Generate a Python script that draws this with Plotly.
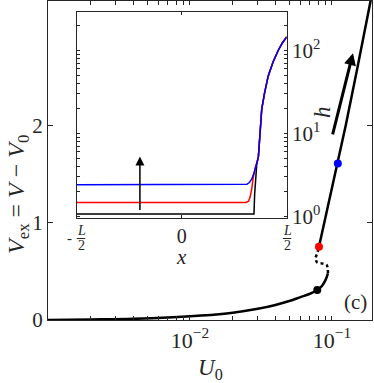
import numpy as np
import plotly.graph_objects as go

# main curve: excess voltage vs U0 (lower stable, unstable, upper stable branches)
u_low = [0.001, 0.002, 0.004, 0.007, 0.012, 0.02, 0.03, 0.04, 0.05, 0.06, 0.07, 0.0788, 0.085, 0.09, 0.0937]
v_low = [0.0, 0.005, 0.012, 0.025, 0.045, 0.075, 0.115, 0.155, 0.195, 0.235, 0.27, 0.309, 0.35, 0.41, 0.48]
u_mid = [0.0937, 0.0918, 0.086, 0.0788, 0.0767, 0.0775, 0.0788, 0.081]
v_mid = [0.48, 0.566, 0.58, 0.59, 0.635, 0.66, 0.686, 0.754]
u_up = [0.081, 0.09, 0.1, 0.11, 0.125, 0.15, 0.19]
v_up = [0.754, 1.05, 1.34, 1.61, 2.0, 2.57, 3.33]

# marked states
dot_u = [0.0788, 0.081, 0.110]
dot_v = [0.309, 0.754, 1.61]
dot_col = ["black", "red", "blue"]

# inset profiles h(x)
x_blk = [-0.5, 0.344, 0.347, 0.352, 0.357, 0.365, 0.373, 0.381, 0.395, 0.412, 0.435, 0.46, 0.48, 0.5]
h_blk = [1.07, 1.07, 1.8, 3.0, 4.2, 5.2, 10, 19.5, 31, 49, 72, 100, 123, 145]
x_red = [-0.5, 0.305, 0.318, 0.326, 0.334, 0.341, 0.352, 0.365, 0.373, 0.381, 0.395, 0.412, 0.435, 0.46, 0.48, 0.5]
h_red = [1.47, 1.47, 1.52, 1.72, 2.2, 3.0, 4.0, 5.2, 10, 19.5, 31, 49, 72, 100, 123, 145]
x_blu = [-0.5, 0.29, 0.31, 0.322, 0.333, 0.342, 0.35, 0.358, 0.365, 0.373, 0.381, 0.395, 0.412, 0.435, 0.46, 0.48, 0.5]
h_blu = [2.4, 2.4, 2.43, 2.55, 2.8, 3.2, 3.7, 4.4, 5.2, 10, 19.5, 31, 49, 72, 100, 123, 145]

# ticks
u_ticks = [a * 10.0**e for e in (-3, -2, -1) for a in range(1, 10)]
u_ticks = [t for t in u_ticks if t <= 0.19]
u_text = ["10<sup>\u22122</sup>" if abs(t - 0.01) < 1e-9 else "10<sup>\u22121</sup>" if abs(t - 0.1) < 1e-9 else "" for t in u_ticks]
h_ticks = [a * 10.0**e for e in (0, 1, 2) for a in range(1, 10)]
h_ticks = [t for t in h_ticks if t <= 280]
h_text = ["10<sup>%d</sup>" % round(np.log10(t)) if abs(np.log10(t) - round(np.log10(t))) < 1e-9 else "" for t in h_ticks]

FONT = "Liberation Serif, DejaVu Serif, serif"
AX = "#262626"

fig = go.Figure()
fig.add_trace(go.Scatter(x=u_low, y=v_low, mode="lines", line=dict(color="black", width=2.5, shape="spline")))
fig.add_trace(go.Scatter(x=u_mid, y=v_mid, mode="lines", line=dict(color="black", width=2.5, dash="dot", shape="spline")))
fig.add_trace(go.Scatter(x=u_up, y=v_up, mode="lines", line=dict(color="black", width=2.5)))
fig.add_trace(go.Scatter(x=dot_u, y=dot_v, mode="markers", marker=dict(color=dot_col, size=8)))

for xs, hs, c in [(x_blk, h_blk, "black"), (x_red, h_red, "red"), (x_blu, h_blu, "blue")]:
    fig.add_trace(go.Scatter(x=xs, y=hs, mode="lines", xaxis="x2", yaxis="y2",
                             line=dict(color=c, width=1.5)))

axcommon = dict(showline=True, linecolor=AX, linewidth=1.2, mirror="allticks", ticks="inside",
                tickcolor=AX, showgrid=False, zeroline=False, automargin=False)

fig.update_layout(
    width=374, height=383, margin=dict(l=48, r=2, t=1, b=63, autoexpand=False),
    paper_bgcolor="white", plot_bgcolor="white", showlegend=False,
    font=dict(family=FONT, size=20, color=AX),
    xaxis=dict(type="log", range=[-3, -0.718], tickmode="array", tickvals=u_ticks, ticktext=u_text,
               ticklen=4, tickfont=dict(size=22), **axcommon),
    yaxis=dict(range=[0, 3.28], tickmode="array", tickvals=[0, 1, 2], ticklen=5, tickfont=dict(size=21),
               **axcommon),
    xaxis2=dict(domain=[0.0895, 0.7367], anchor="y2", range=[-0.5, 0.5], tickmode="array",
                tickvals=[-0.5, 0, 0.5], ticktext=["", "0", ""], ticklen=3, **axcommon),
    yaxis2=dict(domain=[0.3197, 0.9655], anchor="x2", type="log", range=[-0.02, 2.46], side="right",
                tickmode="array", tickvals=h_ticks, ticktext=h_text, ticklen=3, tickfont=dict(size=21),
                **axcommon),
)

anns = [
    dict(text="<i>U</i><sub>0</sub>", x=0.5, y=-0.153, font=dict(size=23)),
    dict(text="<i>V</i><sub>ex</sub> = <i>V</i> \u2212 <i>V</i><sub>0</sub>", textangle=-90,
         x=-0.0926, y=0.395, font=dict(size=24)),
    dict(text="<i>x</i>", x=0.4105, y=0.1975, font=dict(size=21)),
    dict(text="<i>h</i>", textangle=-90, x=0.8457, y=0.652, font=dict(size=23)),
    dict(text="(c)", x=0.9506, y=0.0564, font=dict(size=21)),
    dict(text="-", x=0.0679, y=0.2555, font=dict(size=15)),
]
for cx in (0.1019, 0.7377):
    anns.append(dict(text="<i>L</i>", x=cx, y=0.280, font=dict(size=14)))
    anns.append(dict(text="2", x=cx, y=0.232, font=dict(size=14)))
    fig.add_shape(type="line", xref="paper", yref="paper", x0=cx - 0.013, x1=cx + 0.013, y0=0.2555, y1=0.2555,
                  line=dict(color=AX, width=1))
for a in anns:
    a.update(showarrow=False, xanchor="center", yanchor="middle", xref="paper", yref="paper")
    fig.add_annotation(**a)

# arrows
fig.add_annotation(x=np.log10(0.1406), y=2.744, ax=np.log10(0.1005), ay=1.893, axref="x", ayref="y",
                   xref="x", yref="y", text="", showarrow=True, arrowhead=2, arrowwidth=3,
                   arrowsize=0.8, arrowcolor="black")
fig.add_annotation(x=-0.2, y=0.72, ax=-0.2, ay=0.057, axref="x2", ayref="y2", xref="x2", yref="y2",
                   text="", showarrow=True, arrowhead=2, arrowwidth=1.5, arrowsize=1.2, arrowcolor="black")

fig.write_html("out.html", config={"displayModeBar": False},
               post_script="document.body.style.margin='0px';")
